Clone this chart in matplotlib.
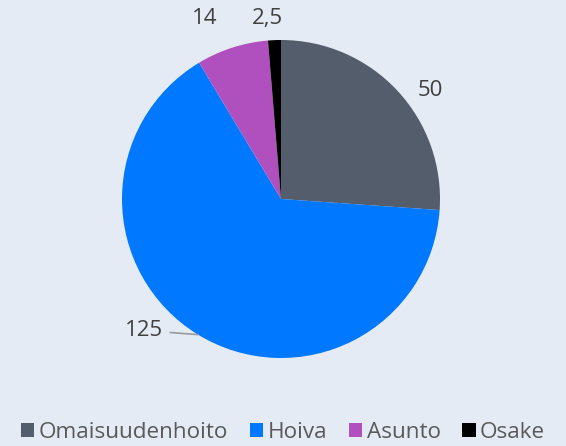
import numpy as np
import matplotlib.pyplot as plt
from matplotlib.patches import Patch

plt.rcParams['font.family'] = ['Open Sans', 'DejaVu Sans']

categories = ['Omaisuudenhoito', 'Hoiva', 'Asunto', 'Osake']
values = [50, 125, 14, 2.5]
value_labels = ['50', '125', '14', '2,5']
colors = ['#535D6C', '#0078FF', '#B04FBE', '#000000']
bg = '#E4EBF5'

fig = plt.figure(figsize=(5.66, 4.46), dpi=100, facecolor=bg)
ax = fig.add_axes([122/566, 88/446, 318/566, 318/446])
ax.set_facecolor(bg)

wedges, _ = ax.pie(values, colors=colors, startangle=90, counterclock=False,
                   radius=1.0, wedgeprops=dict(linewidth=0))
ax.set_xlim(-1, 1)
ax.set_ylim(-1, 1)
ax.set_aspect('equal')

# value labels outside the wedges
offsets = [-7, 0, 5, 2]
dists = [1.16, 1.19, 1.23, 1.14]
for w, lab, off, d in zip(wedges, value_labels, offsets, dists):
    mid = np.deg2rad((w.theta1 + w.theta2) / 2 + off)
    if lab == '125':
        ex, ey = np.cos(mid), np.sin(mid)
        ax.annotate(lab, xy=(ex, ey), xytext=(-0.74, ey + 0.025),
                    ha='right', va='center', fontsize=16, color='#404040',
                    arrowprops=dict(arrowstyle='-', color='#9A9A9A', lw=1.2,
                                    shrinkA=3, shrinkB=0))
    else:
        ax.text(d * np.cos(mid), d * np.sin(mid), lab, ha='center', va='center',
                fontsize=16, color='#404040')

handles = [Patch(facecolor=c, edgecolor='none') for c in colors]
fig.legend(handles, categories, loc='lower center', bbox_to_anchor=(0.5, -0.038),
           ncol=4, frameon=False, fontsize=16.2, handlelength=0.6, handleheight=0.6,
           handletextpad=0.2, columnspacing=0.95, labelcolor='#595959')

fig.savefig('out.png', dpi=100, facecolor=bg)
